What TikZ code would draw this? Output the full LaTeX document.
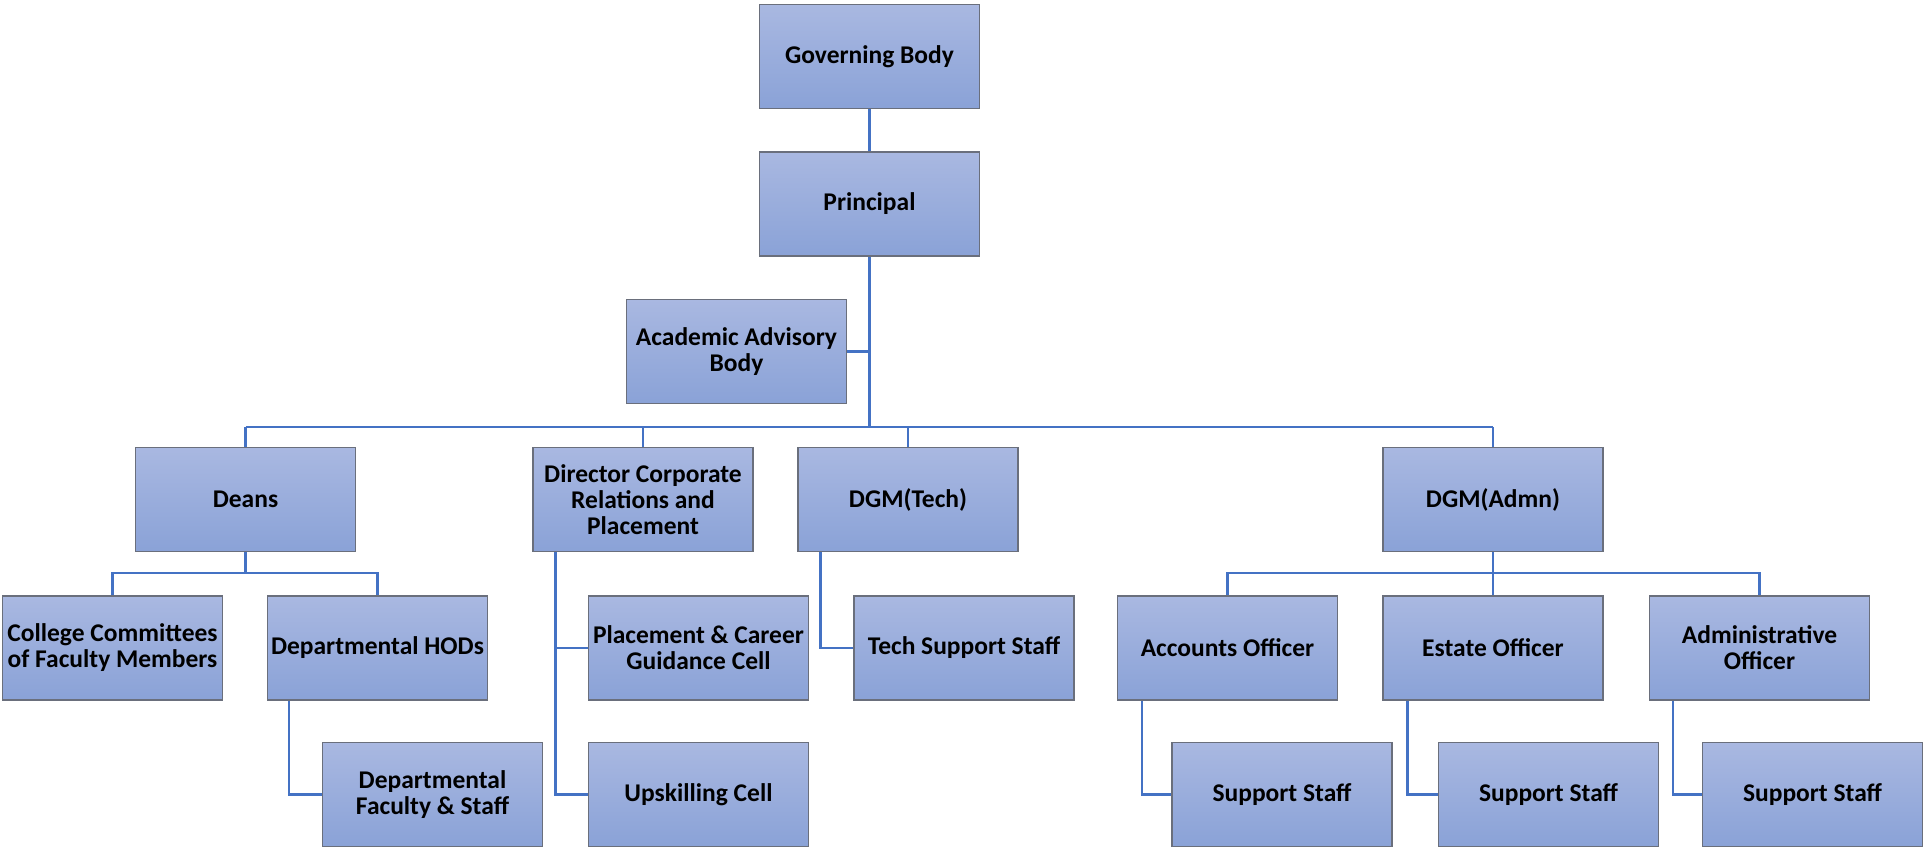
\documentclass[tikz,border=0pt]{standalone}
\usepackage{fontspec}
\setmainfont{Carlito}
\definecolor{boxtop}{HTML}{A9B8E1}
\definecolor{boxbot}{HTML}{8AA2D7}
\definecolor{boxline}{HTML}{6A6F7C}
\definecolor{conn}{HTML}{4472C4}
\tikzset{
  box/.style={rectangle, draw=boxline, line width=1.2pt, top color=boxtop, bottom color=boxbot,
    minimum width=220pt, minimum height=104pt, inner sep=0pt, align=center,
    font=\fontsize{25.5}{26}\selectfont\bfseries},
  link/.style={draw=conn, line width=2.6pt}
}
\begin{document}
\begin{tikzpicture}[x=1pt,y=1pt]
\useasboundingbox (0,0) rectangle (1923,-850);
% nodes
\node[box] (gov) at (869.5,-56.5) {Governing Body};
\node[box] (prin) at (869.5,-204) {Principal};
\node[box] (aab) at (736.5,-351.5) {Academic Advisory\\Body};
\node[box] (deans) at (245.5,-499.5) {Deans};
\node[box] (dir) at (643,-499.5) {Director Corporate\\Relations and\\Placement};
\node[box] (dgmt) at (908,-499.5) {DGM(Tech)};
\node[box] (dgma) at (1493,-499.5) {DGM(Admn)};
\node[box] (ccfm) at (112.5,-648) {College Committees\\of Faculty Members};
\node[box] (hods) at (377.5,-648) {Departmental HODs};
\node[box] (pcgc) at (698.5,-648) {Placement \& Career\\Guidance Cell};
\node[box] (tss) at (964,-648) {Tech Support Staff};
\node[box] (ao) at (1227.5,-648) {Accounts Officer};
\node[box] (eo) at (1493,-648) {Estate Officer};
\node[box] (admo) at (1759.5,-648) {Administrative\\Officer};
\node[box] (dfs) at (432.5,-794.5) {Departmental\\Faculty \& Staff};
\node[box] (up) at (698.5,-794.5) {Upskilling Cell};
\node[box] (ss1) at (1282,-794.5) {Support Staff};
\node[box] (ss2) at (1548.5,-794.5) {Support Staff};
\node[box] (ss3) at (1812.5,-794.5) {Support Staff};
% bus coordinates
\coordinate (bus) at (0,-427);
\coordinate (dbus) at (0,-573);
% connectors
\draw[link] (gov.south) -- (prin.north);
\draw[link] (prin.south) -- (prin.south |- bus);
\draw[link] (aab.east) -- (aab.east -| prin.south);
\draw[link] (deans.north |- bus) -- (dgma.north |- bus);
\draw[link] (deans.north) -- (deans.north |- bus);
\draw[link] (dir.north) -- (dir.north |- bus);
\draw[link] (dgmt.north) -- (dgmt.north |- bus);
\draw[link] (dgma.north) -- (dgma.north |- bus);
% deans subtree
\draw[link] (deans.south) -- (deans.south |- dbus);
\draw[link] (ccfm.north) -- (ccfm.north |- dbus) -- (hods.north |- dbus) -- (hods.north);
\draw[link] ([xshift=22pt]hods.south west) |- (dfs.west);
% director subtree
\draw[link] ([xshift=23pt]dir.south west) |- (pcgc.west);
\draw[link] ([xshift=23pt]dir.south west) |- (up.west);
% tech subtree
\draw[link] ([xshift=23pt]dgmt.south west) |- (tss.west);
% admn subtree
\draw[link] (dgma.south) -- (eo.north);
\draw[link] (ao.north) -- (ao.north |- dbus) -- (admo.north |- dbus) -- (admo.north);
\draw[link] ([xshift=25pt]ao.south west) |- (ss1.west);
\draw[link] ([xshift=25pt]eo.south west) |- (ss2.west);
\draw[link] ([xshift=24pt]admo.south west) |- (ss3.west);
\end{tikzpicture}
\end{document}
